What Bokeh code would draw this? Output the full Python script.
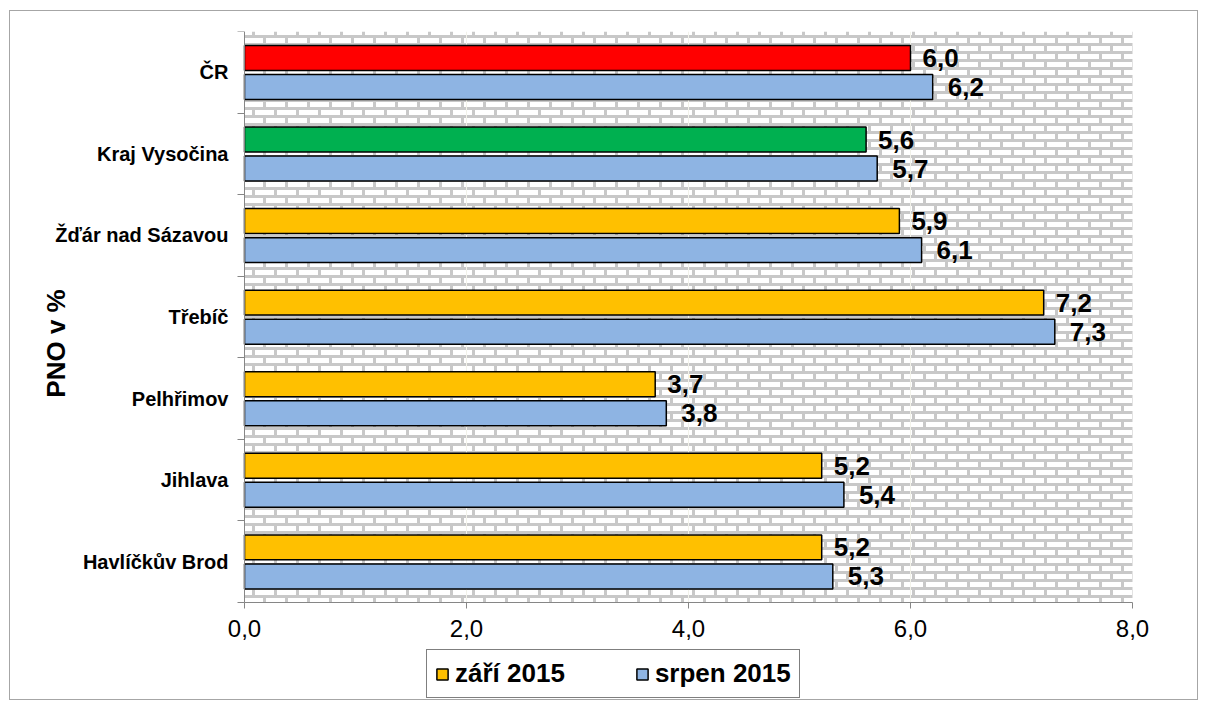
import base64
import math
from bokeh.plotting import figure
from bokeh.core.properties import value
from bokeh.models import (ColumnDataSource, Range1d, FixedTicker, Label,
                          Legend, LegendItem, BoxAnnotation, ImageURLTexture)
from bokeh.embed import file_html
from bokeh.resources import INLINE

# ---- data (bottom to top) ----
categories = ["Havlíčkův Brod", "Jihlava", "Pelhřimov", "Třebíč",
              "Žďár nad Sázavou", "Kraj Vysočina", "ČR"]
zari_2015 = [5.2, 5.2, 3.7, 7.2, 5.9, 5.6, 6.0]
srpen_2015 = [5.3, 5.4, 3.8, 7.3, 6.1, 5.7, 6.2]
zari_colors = ["#FFC000", "#FFC000", "#FFC000", "#FFC000", "#FFC000", "#00B050", "#FF0000"]
srpen_color = "#8EB4E3"
series_names = ["září 2015", "srpen 2015"]
x_ticks = [0, 2, 4, 6, 8]
y_title = "PNO v %"

FONT = "Liberation Sans"

def fmt(v):
    return f"{v:.1f}".replace(".", ",")

n = len(categories)
centers = [i + 0.5 for i in range(n)]
X_MAX = 8

# ---- layout (pixels) ----
PLOT_W, PLOT_H = 888, 571          # bar area
LEFT_PAD, RIGHT_PAD = 234, 65      # room left / right of the bar area
FRAME_W, FRAME_H = LEFT_PAD + PLOT_W + RIGHT_PAD, 668
PX_X = PLOT_W / X_MAX
PX_Y = PLOT_H / n
x_start = -LEFT_PAD / PX_X
x_end = X_MAX + RIGHT_PAD / PX_X
y_start = n - FRAME_H / PX_Y

src_a = ColumnDataSource(dict(
    y=[c + 0.176 for c in centers], v=zari_2015, color=zari_colors,
    lbl=[fmt(v) for v in zari_2015]))
src_b = ColumnDataSource(dict(
    y=[c - 0.18 for c in centers], v=srpen_2015,
    lbl=[fmt(v) for v in srpen_2015]))

p = figure(frame_width=FRAME_W, frame_height=FRAME_H, output_backend="svg",
           toolbar_location=None,
           x_range=Range1d(x_start, x_end), y_range=Range1d(y_start, n),
           min_border_left=0, min_border_right=0, min_border_top=20,
           min_border_bottom=0, outline_line_color=None,
           background_fill_color="white", border_fill_color="white")
p.styles = {"border": "1px solid #a6a6a6", "margin-left": "9px", "margin-top": "10px"}

# brick background texture
tile = ("<svg xmlns='http://www.w3.org/2000/svg' width='22' height='16'>"
        "<rect width='22' height='16' fill='#ffffff'/>"
        "<g fill='#c8c8c8'>"
        "<rect x='0' y='0' width='22' height='3'/>"
        "<rect x='0' y='8' width='22' height='3'/>"
        "<rect x='0' y='0' width='3' height='8'/>"
        "<rect x='11' y='8' width='3' height='8'/>"
        "</g></svg>")
uri = "data:image/svg+xml;base64," + base64.b64encode(tile.encode()).decode()
tex = ImageURLTexture(url=uri, repetition="repeat")
bg = BoxAnnotation(left=0, right=X_MAX, bottom=0, fill_alpha=0, line_color=None,
                   hatch_pattern="brick", hatch_extra={"brick": tex}, level="image")
p.add_layout(bg)

# grid
p.ygrid.grid_line_color = None
p.xgrid.grid_line_color = "#f2f2ea"
p.xgrid.grid_line_width = 1
p.xgrid.ticker = FixedTicker(ticks=x_ticks[1:-1])
cover = BoxAnnotation(top=0, fill_color="white", fill_alpha=1, line_color=None,
                      level="glyph")
p.add_layout(cover)

ra = p.hbar(y="y", left=0, right="v", height=0.306, source=src_a,
            fill_color="color", line_color="black", line_width=1.5)
rb = p.hbar(y="y", left=0, right="v", height=0.306, source=src_b,
            fill_color=srpen_color, line_color="black", line_width=1.5)

p.text(x="v", y="y", text="lbl", source=src_a, x_offset=12,
       text_font=value(FONT), text_font_style="bold", text_font_size="26px",
       text_baseline="middle", text_align="left", text_color="black")
p.text(x="v", y="y", text="lbl", source=src_b, x_offset=15,
       text_font=value(FONT), text_font_style="bold", text_font_size="26px",
       text_baseline="middle", text_align="left", text_color="black")

# x axis (fixed at y = 0)
xa = p.xaxis[0]
xa.fixed_location = 0
xa.bounds = (0, X_MAX)
xa.ticker = FixedTicker(ticks=x_ticks)
xa.major_label_overrides = {t: fmt(t) for t in x_ticks}
xa.major_label_text_font = FONT
xa.major_label_text_font_size = "24px"
xa.major_label_text_color = "black"
xa.major_label_standoff = 11
xa.axis_line_color = "#868686"
xa.major_tick_line_color = "#868686"
xa.major_tick_out = 6
xa.major_tick_in = 0
xa.minor_tick_line_color = None

# y axis (fixed at x = 0)
ya = p.yaxis[0]
ya.fixed_location = 0
ya.bounds = (0, n)
ya.ticker = FixedTicker(ticks=centers, minor_ticks=list(range(n + 1)))
ya.major_label_overrides = {c: name for c, name in zip(centers, categories)}
ya.major_label_text_font = FONT
ya.major_label_text_font_style = "bold"
ya.major_label_text_font_size = "20px"
ya.major_label_text_color = "black"
ya.major_label_standoff = 9
ya.major_tick_out = 0
ya.major_tick_in = 0
ya.minor_tick_out = 7
ya.minor_tick_in = 0
ya.minor_tick_line_color = "#868686"
ya.axis_line_color = "#868686"

# y axis title
title_x = -(244 - 55) / PX_X
title_y = n - (343 - 31) / PX_Y
p.add_layout(Label(x=title_x, y=title_y, text=y_title, angle=math.pi / 2,
                   text_align="center", text_baseline="middle",
                   text_font=FONT, text_font_style="bold", text_font_size="26px",
                   text_color="black"))

legend = Legend(items=[LegendItem(label=series_names[0], renderers=[ra], index=0),
                       LegendItem(label=series_names[1], renderers=[rb], index=0)],
                orientation="horizontal", location=(LEFT_PAD + 182, 1),
                label_text_font=FONT, label_text_font_style="bold",
                label_text_font_size="26px", label_text_color="black",
                glyph_width=14, glyph_height=14, label_standoff=6, spacing=70,
                padding=8, margin=0, border_line_color="black", border_line_width=1,
                background_fill_color="white", background_fill_alpha=1)
p.add_layout(legend, "center")

open("out.html", "w").write(file_html(p, INLINE))
